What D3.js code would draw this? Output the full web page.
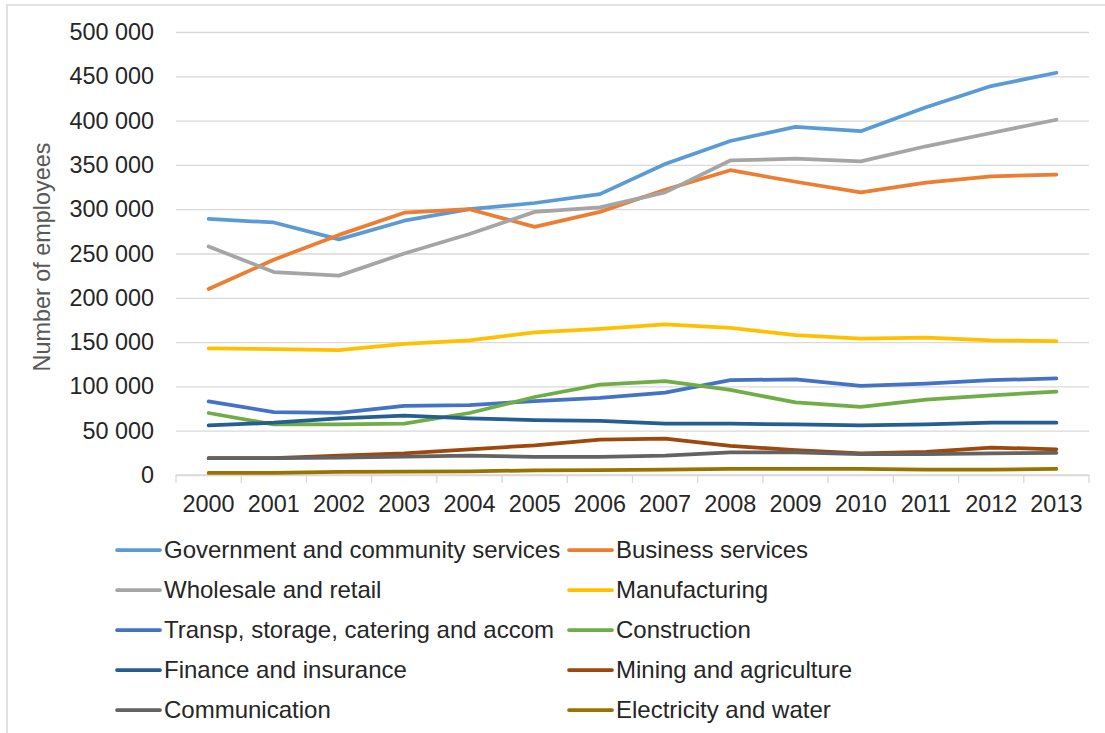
<!DOCTYPE html>
<html>
<head>
<meta charset="utf-8">
<script src="https://cdn.jsdelivr.net/npm/d3@7"></script>
<style>
  body { margin: 0; background: #fff; }
  text { font-family: "Liberation Sans", Arial, sans-serif; }
</style>
</head>
<body>
<div id="employment-chart"></div>
<script>
const WIDTH = 1105;
const HEIGHT = 733;

const MARGIN = {
  TOP: 32,
  RIGHT: 16,
  BOTTOM: 258,
  LEFT: 176,
};

const PLOTW = WIDTH - MARGIN.LEFT - MARGIN.RIGHT;
const PLOTH = HEIGHT - MARGIN.TOP - MARGIN.BOTTOM;

// data
const years = [2000, 2001, 2002, 2003, 2004, 2005, 2006, 2007, 2008, 2009, 2010, 2011, 2012, 2013];
const yTicks = [0, 50000, 100000, 150000, 200000, 250000, 300000, 350000, 400000, 450000, 500000];

const government = [289000, 285000, 266000, 287000, 300000, 307000, 317000, 351000, 377000, 393000, 388000, 415000, 439000, 454000];
const business = [210000, 243000, 271000, 296000, 300000, 280000, 297000, 322000, 344000, 331000, 319000, 330000, 337000, 339000];
const wholesale = [258000, 229000, 225000, 250000, 272000, 297000, 302000, 319000, 355000, 357000, 354000, 371000, 386000, 401000];
const manufacturing = [143000, 142000, 141000, 148000, 152000, 161000, 165000, 170000, 166000, 158000, 154000, 155000, 152000, 151000];
const transport = [83000, 71000, 70000, 78000, 79000, 83500, 87000, 93000, 107000, 108000, 100500, 103000, 107000, 109000];
const construction = [70000, 57000, 57000, 58000, 70000, 88000, 102000, 106000, 96000, 82000, 77000, 85000, 90000, 94000];
const finance = [56000, 59000, 64000, 67000, 64000, 62000, 61000, 58000, 58000, 57000, 56000, 57000, 59000, 59000];
const mining = [19000, 19000, 22000, 24500, 29000, 33500, 40000, 41000, 33000, 28000, 24500, 26000, 31000, 29000];
const communication = [19000, 19000, 19500, 20700, 22000, 20500, 20500, 22000, 25600, 25500, 23700, 23500, 24500, 25000];
const electricity = [2300, 2500, 3400, 3700, 4000, 5300, 5600, 6000, 7000, 7000, 6800, 6000, 6000, 7000];

const seriesNames = [
  "Government and community services",
  "Business services",
  "Wholesale and retail",
  "Manufacturing",
  "Transp, storage, catering and accom",
  "Construction",
  "Finance and insurance",
  "Mining and agriculture",
  "Communication",
  "Electricity and water",
];
const seriesValues = [government, business, wholesale, manufacturing, transport, construction, finance, mining, communication, electricity];
const colors = ["#5B9BD5", "#ED7D31", "#A5A5A5", "#FFC000", "#4472C4", "#70AD47", "#255E91", "#9E480E", "#636363", "#997300"];

const series = seriesNames.map((name, i) => ({
  name: name,
  color: colors[i],
  values: years.map((y, j) => ({ year: y, value: seriesValues[i][j] })),
}));

const svg = d3
  .select("#employment-chart")
  .append("svg")
  .attr("width", WIDTH)
  .attr("height", HEIGHT);

// chart border (only top/left edges visible)
svg
  .append("rect")
  .attr("x", 7)
  .attr("y", 5)
  .attr("width", WIDTH + 20)
  .attr("height", HEIGHT + 20)
  .style("fill", "none")
  .style("stroke", "#D9D9D9")
  .style("stroke-width", "1.5px");

const chart = svg
  .append("g")
  .attr("transform", `translate(${MARGIN.LEFT}, ${MARGIN.TOP})`);

const x = d3.scaleBand().domain(years).range([0, PLOTW]);
const y = d3.scaleLinear().domain([0, 500000]).range([PLOTH, 0]);

const fmt = (d) => d3.format(",")(d).replace(/,/g, " ");

// gridlines + y labels
chart
  .append("g")
  .attr("class", "yAxis")
  .call(d3.axisLeft(y).tickValues(yTicks).tickSize(-PLOTW).tickPadding(22).tickFormat(fmt))
  .call((g) => {
    g.select(".domain").remove();
    g.selectAll(".tick line").style("stroke", "#D9D9D9").style("stroke-width", "1.3px");
    g.selectAll(".tick text")
      .attr("font-size", "23.4px")
      .style("font-family", '"Liberation Sans", Arial, sans-serif')
      .style("fill", "#262626");
  });

// x axis with ticks between categories
const xAxis = chart
  .append("g")
  .attr("class", "xAxis")
  .attr("transform", `translate(0, ${PLOTH})`);

xAxis
  .append("line")
  .attr("x1", 0)
  .attr("x2", PLOTW)
  .style("stroke", "#D9D9D9")
  .style("stroke-width", "1.5px");

xAxis
  .selectAll(".sep")
  .data(years.concat(["end"]))
  .enter()
  .append("line")
  .attr("x1", (d, i) => i * x.step())
  .attr("x2", (d, i) => i * x.step())
  .attr("y1", 0)
  .attr("y2", 8)
  .style("stroke", "#D9D9D9")
  .style("stroke-width", "1.3px");

xAxis
  .selectAll(".label")
  .data(years)
  .enter()
  .append("text")
  .attr("x", (d) => x(d) + x.bandwidth() / 2)
  .attr("y", 29)
  .attr("dy", "0.35em")
  .attr("text-anchor", "middle")
  .attr("font-size", "23.4px")
  .style("fill", "#262626")
  .text((d) => d);

// y title
svg
  .append("text")
  .attr("transform", `translate(42, 257) rotate(-90)`)
  .attr("dy", "0.35em")
  .attr("text-anchor", "middle")
  .attr("font-size", "23.4px")
  .style("fill", "#595959")
  .text("Number of employees");

// lines
const line = d3
  .line()
  .x((d) => x(d.year) + x.bandwidth() / 2)
  .y((d) => y(d.value));

chart
  .selectAll(".series")
  .data(series)
  .enter()
  .append("path")
  .attr("class", "series")
  .attr("d", (d) => line(d.values))
  .style("fill", "none")
  .style("stroke", (d) => d.color)
  .style("stroke-width", "3.75px")
  .style("stroke-linejoin", "round")
  .style("stroke-linecap", "round");

// legend, two columns
const legendCols = [117, 569];
const legend = svg
  .selectAll(".legend")
  .data(series)
  .enter()
  .append("g")
  .attr("class", "legend")
  .attr("transform", (d, i) => `translate(${legendCols[i % 2]}, ${550 + Math.floor(i / 2) * 40})`);

legend
  .append("line")
  .attr("x1", 0)
  .attr("x2", 43)
  .style("stroke", (d) => d.color)
  .style("stroke-width", "3.75px")
  .style("stroke-linecap", "round");

legend
  .append("text")
  .attr("x", 47)
  .attr("dy", "0.35em")
  .attr("font-size", "24px")
  .style("fill", "#262626")
  .text((d) => d.name);
</script>
</body>
</html>
